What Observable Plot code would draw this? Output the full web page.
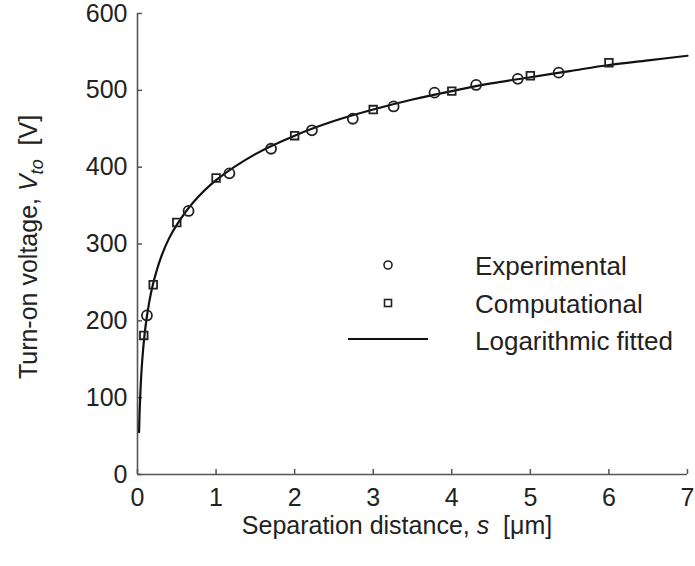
<!DOCTYPE html>
<html><head><meta charset="utf-8">
<script src="https://cdn.jsdelivr.net/npm/d3@7"></script>
<script src="https://cdn.jsdelivr.net/npm/@observablehq/plot@0.6"></script>
<style>html,body{margin:0;padding:0;background:#fff;}</style>
</head><body><div id="chart"></div>
<script>
// Experimental measurements
const expS = [0.12, 0.65, 1.17, 1.70, 2.22, 2.74, 3.26, 3.78, 4.31, 4.84, 5.36];
const expV = [207, 343, 392, 424, 448, 463, 479, 497, 507, 515, 523];
// Computational results
const compS = [0.08, 0.2, 0.5, 1, 2, 3, 4, 5, 6];
const compV = [181, 247, 328, 386, 441, 475, 499, 519, 536];
// Logarithmic fitted curve
const fitS = [0.02, 0.025, 0.03, 0.04, 0.05, 0.07, 0.1, 0.15, 0.2, 0.3, 0.4, 0.5, 0.7, 1, 1.5, 2, 2.5, 3, 3.5, 4, 4.5, 5, 5.5, 6, 6.5, 7];
const fitV = [55, 75, 90, 114, 133, 161, 191, 225, 249, 283, 307, 325, 353, 383, 417, 441, 460, 475, 488, 499, 509, 517, 525, 533, 539, 545];
// Ticks
const xTicks = [0, 1, 2, 3, 4, 5, 6, 7];
const yTicks = [0, 100, 200, 300, 400, 500, 600];
// Legend labels
const legendLabels = ["Experimental", "Computational", "Logarithmic fitted"];

const exp = expS.map((s, i) => ({s, v: expV[i]}));
const comp = compS.map((s, i) => ({s, v: compV[i]}));
const fit = fitS.map((s, i) => ({s, v: fitV[i]}));

const FONT = "'Liberation Sans', Arial, Helvetica, sans-serif";
const AX = "#555";

const plot = Plot.plot({
  width: 695, height: 566,
  marginLeft: 137, marginRight: 8, marginTop: 13, marginBottom: 92,
  style: {fontFamily: FONT, fontSize: "25px", color: "#222", background: "#fff"},
  x: {domain: [0, 7]},
  y: {domain: [0, 600]},
  marks: [
    Plot.axisX({ticks: xTicks, tickFormat: "d", tickSize: 5, dy: -5, tickPadding: 14, stroke: AX, strokeWidth: 1.5, fill: "#222", label: null, fontSize: 25}),
    Plot.axisY({ticks: yTicks, tickFormat: "d", tickSize: 5, dx: 5, tickPadding: 10, stroke: AX, strokeWidth: 1.5, fill: "#222", label: null, fontSize: 25}),
    Plot.ruleX([0], {stroke: AX, strokeWidth: 1.6}),
    Plot.ruleY([0], {stroke: AX, strokeWidth: 1.6}),
    Plot.line(fit, {x: "s", y: "v", curve: "catmull-rom", stroke: "#111", strokeWidth: 2.2}),
    Plot.dot(exp, {x: "s", y: "v", r: 5, symbol: "circle", stroke: "#222", strokeWidth: 1.8, fill: "none"}),
    Plot.dot(comp, {x: "s", y: "v", r: 4.3, symbol: "square", stroke: "#222", strokeWidth: 1.8, fill: "none"})
  ]
});

const svg = d3.select(plot);

// X axis label with italic s
const xl = svg.append("text")
  .attr("x", 397).attr("y", 534)
  .attr("text-anchor", "middle")
  .attr("font-family", FONT).attr("font-size", 25).attr("fill", "#222");
xl.append("tspan").text("Separation distance, ");
xl.append("tspan").attr("font-style", "italic").text("s");
xl.append("tspan").text("\u00A0\u00A0[\u03BCm]");

// Y axis label with italic V and subscript "to"
const yl = svg.append("text")
  .attr("transform", "translate(37,247) rotate(-90)")
  .attr("text-anchor", "middle")
  .attr("font-family", FONT).attr("font-size", 25).attr("fill", "#222");
yl.append("tspan").text("Turn-on voltage, ");
yl.append("tspan").attr("font-style", "italic").text("V");
yl.append("tspan").attr("font-style", "italic").attr("font-size", 18).attr("dy", 6).text("to");
yl.append("tspan").attr("dy", -6).text("\u00A0\u00A0[V]");

// Legend
const lg = svg.append("g").attr("font-family", FONT).attr("font-size", 26).attr("fill", "#222").attr("text-anchor", "start");
lg.append("circle").attr("cx", 388).attr("cy", 265).attr("r", 4).attr("fill", "none").attr("stroke", "#222").attr("stroke-width", 1.6);
lg.append("rect").attr("x", 384.5).attr("y", 299.5).attr("width", 7).attr("height", 7).attr("fill", "none").attr("stroke", "#222").attr("stroke-width", 1.6);
lg.append("line").attr("x1", 348).attr("x2", 428).attr("y1", 339).attr("y2", 339).attr("stroke", "#111").attr("stroke-width", 2);
[275, 313, 350].forEach((y, i) => {
  lg.append("text").attr("x", 475).attr("y", y).attr("text-anchor", "start").text(legendLabels[i]);
});

document.getElementById("chart").appendChild(plot);
</script>
</body></html>
